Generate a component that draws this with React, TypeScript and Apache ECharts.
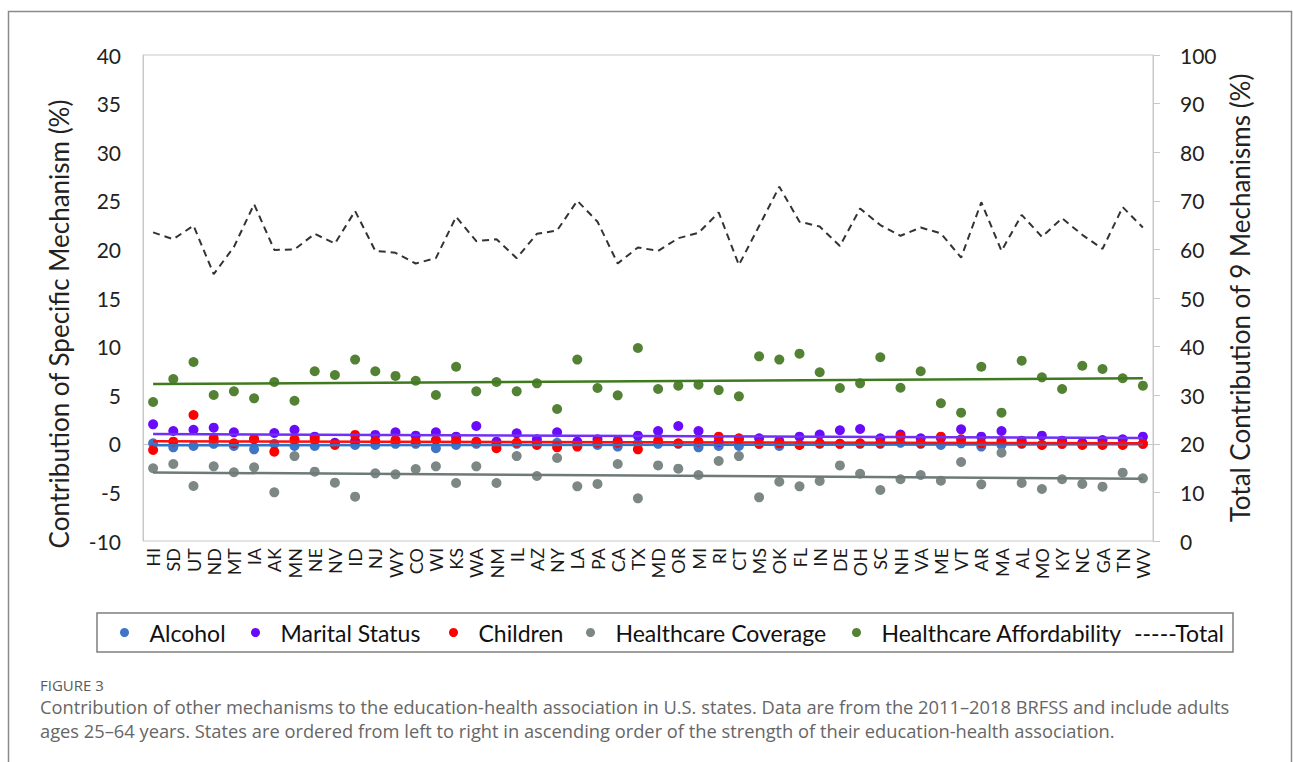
import React, { useEffect, useRef } from "react";
import * as echarts from "echarts";

const states = ["HI","SD","UT","ND","MT","IA","AK","MN","NE","NV","ID","NJ","WY","CO","WI","KS","WA","NM","IL","AZ","NY","LA","PA","CA","TX","MD","OR","MI","RI","CT","MS","OK","FL","IN","DE","OH","SC","NH","VA","ME","VT","AR","MA","AL","MO","KY","NC","GA","TN","WV"];

const alcohol = [0.05,-0.36,-0.22,0.0,-0.22,-0.57,0.0,-0.22,-0.22,0.05,-0.12,-0.12,0.0,0.0,-0.46,-0.12,0.0,0.0,0.0,0.05,0.1,0.05,-0.12,-0.29,0.05,0.0,0.0,-0.36,-0.22,-0.22,0.0,-0.22,-0.1,0.0,0.0,0.0,0.0,0.1,0.0,-0.12,0.05,-0.29,-0.12,0.0,-0.1,0.0,0.0,-0.05,-0.05,0.0];
const marital = [2.0,1.32,1.45,1.66,1.18,0.5,1.11,1.45,0.73,0.11,0.3,0.91,1.18,0.84,1.18,0.73,1.83,0.22,1.08,0.46,1.18,0.22,0.46,0.32,0.84,1.32,1.83,1.32,0.2,0.5,0.57,0.3,0.73,0.95,1.39,1.52,0.57,0.95,0.57,0.6,1.49,0.73,1.32,0.32,0.84,0.32,0.1,0.39,0.46,0.73];
const children = [-0.64,0.22,2.96,0.57,0.05,0.46,-0.81,0.46,0.46,-0.12,0.91,0.29,0.39,0.22,0.39,0.32,0.22,-0.46,0.12,-0.12,-0.36,-0.29,0.12,0.12,-0.57,0.32,0.05,0.22,0.73,0.57,0.0,0.05,-0.12,0.05,0.0,0.05,0.05,0.73,0.05,0.73,0.46,0.05,0.32,0.05,-0.12,0.0,-0.12,-0.12,-0.12,0.0];
const coverage = [-2.52,-2.08,-4.34,-2.32,-2.93,-2.42,-4.99,-1.26,-2.87,-4.0,-5.44,-3.04,-3.14,-2.59,-2.32,-4.03,-2.32,-4.03,-1.26,-3.31,-1.46,-4.38,-4.13,-2.08,-5.61,-2.22,-2.56,-3.21,-1.77,-1.26,-5.51,-3.9,-4.38,-3.83,-2.22,-3.08,-4.75,-3.65,-3.21,-3.8,-1.87,-4.17,-0.92,-4.03,-4.65,-3.65,-4.13,-4.41,-2.97,-3.55];
const affordability = [4.3,6.67,8.42,5.02,5.4,4.68,6.36,4.43,7.46,7.08,8.66,7.46,6.98,6.49,5.02,7.93,5.4,6.36,5.4,6.22,3.58,8.66,5.74,4.99,9.86,5.64,5.98,6.08,5.53,4.88,9.0,8.66,9.27,7.36,5.74,6.22,8.9,5.77,7.46,4.17,3.2,7.93,3.2,8.55,6.84,5.64,8.03,7.7,6.74,5.98];
const total = [63.5,62.1,64.9,54.9,60.5,69.3,59.9,60.0,63.2,61.2,67.9,59.7,59.3,57.1,58.2,66.7,61.7,62.1,58.2,63.2,63.9,70.0,65.7,57.1,60.4,59.7,62.3,63.4,67.6,56.8,64.8,72.9,65.7,64.7,60.7,68.4,65.0,62.8,64.5,63.3,58.3,69.7,59.7,67.1,62.6,66.4,63.0,60.1,68.7,64.5];

// trendline endpoints [first state, last state]
const trendAlcohol = [-0.15, -0.05];
const trendMarital = [1.0, 0.6];
const trendChildren = [0.25, 0.05];
const trendCoverage = [-2.95, -3.6];
const trendAffordability = [6.15, 6.75];

const yLeftTicks = { min: -10, max: 40, interval: 5 };
const yRightTicks = { min: 0, max: 100, interval: 10 };

const captionLines = [
  "Contribution of other mechanisms to the education-health association in U.S. states. Data are from the 2011\u20132018 BRFSS and include adults",
  "ages 25\u201364 years. States are ordered from left to right in ascending order of the strength of their education-health association.",
];

const FONT = "Lato";
const CAP_FONT = "Open Sans";
const C_ALC = "#3F74C6";
const C_MAR = "#6A0AFA";
const C_CHI = "#FF0000";
const C_COV = "#7D8886";
const C_AFF = "#548235";

export default function App() {
  const ref = useRef<HTMLDivElement>(null);
  useEffect(() => {
    if (!ref.current) return;
    const chart = echarts.init(ref.current, null, { renderer: "svg" });
    const first = states[0];
    const last = states[states.length - 1];
    const scatter = (name: string, data: number[], color: string) => ({
      name,
      type: "scatter",
      yAxisIndex: 0,
      symbolSize: 10,
      itemStyle: { color, opacity: 1 },
      data,
      z: 3,
    });
    const trend = (name: string, ends: number[], color: string) => ({
      name: name + " trend",
      type: "line",
      yAxisIndex: 0,
      showSymbol: false,
      symbol: "none",
      lineStyle: { color, width: 2.5 },
      data: [[first, ends[0]], [last, ends[1]]],
      z: 4,
    });
    const legendItem = (name: string, left: number, color: string) => ({
      data: [name],
      left,
      top: 621,
      itemWidth: 40,
      itemHeight: 9,
      icon: "circle",
      padding: 0,
      selectedMode: false,
      itemStyle: { color },
      textStyle: { fontFamily: FONT, fontSize: 23, color: "#111" },
    });
    chart.setOption({
      animation: false,
      backgroundColor: "#ffffff",
      textStyle: { fontFamily: FONT },
      grid: { left: 143, top: 55, width: 1010, height: 486, show: true, borderColor: "#c8c8c8", borderWidth: 1, containLabel: false },
      legend: [
        legendItem("Alcohol", 120, C_ALC),
        legendItem("Marital Status", 251, C_MAR),
        legendItem("Children", 449, C_CHI),
        legendItem("Healthcare Coverage", 586, C_COV),
        legendItem("Healthcare Affordability", 852, C_AFF),
        {
          data: ["Total"],
          left: 1128,
          top: 621,
          itemWidth: 1,
          itemHeight: 9,
          icon: "none",
          padding: 0,
          selectedMode: false,
          formatter: () => "-----Total",
          textStyle: { fontFamily: FONT, fontSize: 23, color: "#111" },
        },
      ],
      xAxis: {
        type: "category",
        data: states,
        boundaryGap: true,
        axisLine: { show: true, lineStyle: { color: "#c8c8c8", width: 1 } },
        axisTick: { show: false },
        splitLine: { show: false },
        axisLabel: { interval: 0, rotate: 90, fontSize: 18, margin: 7, color: "#1a1a1a", fontFamily: FONT },
      },
      yAxis: [
        {
          type: "value",
          position: "left",
          min: yLeftTicks.min,
          max: yLeftTicks.max,
          interval: yLeftTicks.interval,
          axisLine: { show: true, lineStyle: { color: "#c8c8c8" } },
          axisTick: { show: false },
          splitLine: { show: false },
          axisLabel: { fontSize: 21, margin: 22, color: "#222", fontFamily: FONT },
          name: "Contribution of Specific Mechanism (%)",
          nameLocation: "middle",
          nameRotate: 90,
          nameGap: 71,
          nameTextStyle: { fontSize: 26, color: "#222", fontFamily: FONT, padding: [0, 52, 0, 0] },
        },
        {
          type: "value",
          position: "right",
          min: yRightTicks.min,
          max: yRightTicks.max,
          interval: yRightTicks.interval,
          axisLine: { show: true, lineStyle: { color: "#c8c8c8" } },
          axisTick: { show: true, inside: false, length: 7, lineStyle: { color: "#c8c8c8" } },
          splitLine: { show: false },
          axisLabel: { fontSize: 21, margin: 27, color: "#222", fontFamily: FONT },
          name: "Total Contribution of 9 Mechanisms (%)",
          nameLocation: "middle",
          nameRotate: 90,
          nameGap: 72,
          nameTextStyle: { fontSize: 26, color: "#222", fontFamily: FONT },
        },
      ],
      series: [
        {
          name: "Total",
          type: "line",
          yAxisIndex: 1,
          showSymbol: false,
          symbol: "none",
          lineStyle: { color: "#333333", width: 2, type: [7, 5] },
          data: total,
          z: 2,
        },
        scatter("Alcohol", alcohol, C_ALC),
        scatter("Marital Status", marital, C_MAR),
        scatter("Children", children, C_CHI),
        scatter("Healthcare Coverage", coverage, C_COV),
        scatter("Healthcare Affordability", affordability, C_AFF),
        trend("Alcohol", trendAlcohol, "#2F75C8"),
        trend("Marital Status", trendMarital, "#7030F5"),
        trend("Children", trendChildren, "#FF1010"),
        trend("Healthcare Coverage", trendCoverage, "#6E7A78"),
        trend("Healthcare Affordability", trendAffordability, "#3F7A1F"),
      ],
      graphic: [
        { type: "rect", shape: { x: 8.5, y: 11.5, width: 1283, height: 800 }, style: { fill: "none", stroke: "#8a8a8a", lineWidth: 1.5 }, silent: true },
        { type: "rect", shape: { x: 97, y: 613, width: 1136, height: 39 }, style: { fill: "none", stroke: "#7f7f7f", lineWidth: 1.5 }, silent: true },
        { type: "text", x: 40, y: 677, style: { text: "FIGURE 3", fontFamily: CAP_FONT, fontSize: 15, fill: "#5a5a5a" } },
        { type: "text", x: 40, y: 697, style: { text: captionLines[0], fontFamily: CAP_FONT, fontSize: 18.3, fill: "#666666" } },
        { type: "text", x: 40, y: 721, style: { text: captionLines[1], fontFamily: CAP_FONT, fontSize: 18.3, fill: "#666666" } },
      ],
    });
    return () => chart.dispose();
  }, []);
  return <div ref={ref} style={{ position: "absolute", left: 0, top: 0, width: 1293, height: 762 }} />;
}
